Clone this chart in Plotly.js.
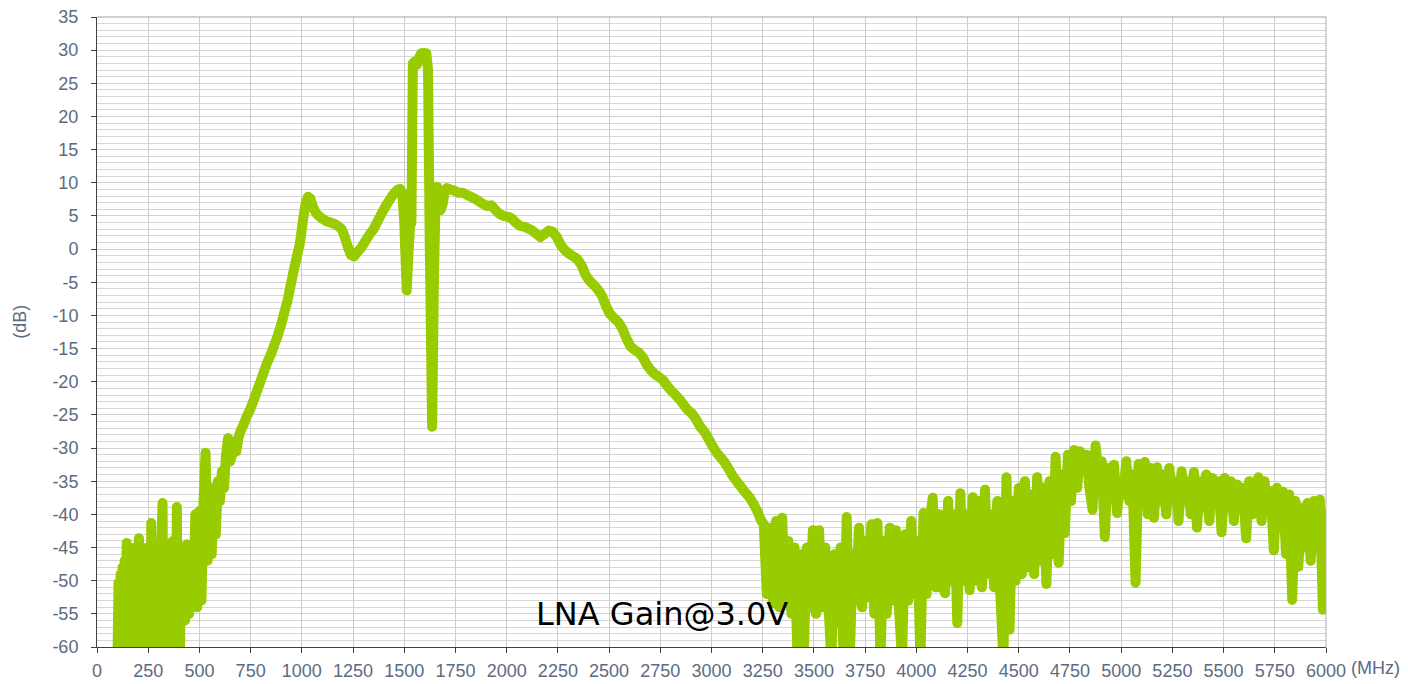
<!DOCTYPE html>
<html>
<head>
<meta charset="utf-8">
<script src="https://cdn.plot.ly/plotly-3.0.1.min.js"></script>
<style>
  html, body { margin: 0; padding: 0; background: #ffffff; }
  #chart { width: 1408px; height: 684px; }
</style>
</head>
<body>
<div id="chart"></div>
<script>
// ---- Data (frequency in MHz, gain in dB) ----
const freqLow = [
  100,105,110,115,120,125,130,135,140,145,
  150,155,160,165,170,175,180,185,190,195,
  200,205,210,215,220,225,230,235,240,245,
  250,255,260,265,270,275,280,285,290,295,
  300,305,310,315,320,325,330,335,340,345,
  350,355,360,365,370,375,380,385,390,395,
  400,405,410,415,420,430,440,450,460,470,
  480,490,500,510,520,530,540,550,560,570,
  580,590,600,610,620,630,640,650
];
const gainLow = [
  -62,-50.3,-62,-49,-62,-48,-62,-47,-60,-44.3,
  -62,-47,-62,-46,-60,-47,-62,-45,-58,-46,
  -62,-43.6,-60,-47,-62,-46,-59,-47,-62,-45,
  -60,-46,-62,-41.3,-58,-47,-62,-46,-60,-47,
  -62,-46,-58,-44,-38.3,-62,-46,-60,-47,-62,
  -45,-58,-47,-62,-44,-60,-46,-62,-38.9,-62,
  -47,-62,-46,-56,-45,-56,-44.5,-55,-45,-54,
  -40,-54,-39.5,-53,-38,-30.7,-47,-38.5,-46,-36,
  -43,-35,-38,-33.5,-36,-31,-28.5,-32
];

const freqMid = [
  660,670,680,690,700,715,730,750,765,780,
  800,815,830,850,865,880,900,915,930,945,
  960,975,990,1005,1018,1030,1042,1055,1068,1080,
  1100,1120,1140,1160,1180,1195,1210,1225,1240,1255,
  1270,1290,1310,1330,1350,1370,1390,1410,1430,1450,
  1465,1480,1490,1500,1512,1520,1528,1535,1542,1552,
  1562,1572,1582,1595,1608,1616,1624,1636,1645,1652,
  1660,1668,1678,1688,1698,1708,1725,1745,1765,1785,
  1805,1825,1845,1865,1885,1905,1925,1945,1965,1985,
  2005,2025,2045,2065,2085,2105,2125,2145,2165,2185,
  2205,2225,2245,2265,2285,2305,2325,2345,2365,2385,
  2405,2425,2445,2465,2485,2505,2525,2545,2565,2585,
  2605,2625,2645,2665,2685,2705,2725,2745,2765,2785,
  2805,2825,2845,2865,2885,2905,2925,2945,2965,2985,
  3005,3025,3045,3065,3085,3105,3125,3145,3165,3185,
  3205,3225,3240
];
const gainMid = [
  -31,-29,-30.5,-28.5,-27.5,-26.5,-25.3,-24,-22.8,-21.5,
  -19.8,-18.5,-17.2,-15.8,-14.5,-13.3,-11.3,-9.5,-7.8,-5.5,
  -3.3,-1.2,0.8,4.2,6.8,7.9,7.6,6.3,5.5,5.1,
  4.6,4.2,4.0,3.8,3.4,3.0,1.8,0.3,-0.9,-1.1,
  -0.5,0.2,1.2,2.2,3.0,4.2,5.4,6.5,7.5,8.4,
  8.9,9.1,8.6,4.0,-6.2,-1.0,3.3,4.0,28.0,28.3,
  27.8,28.8,29.5,29.6,29.5,27.0,2.0,-26.8,-4.0,6.0,
  9.4,7.5,5.9,6.8,8.8,9.2,9.0,8.8,8.5,8.5,
  8.2,7.9,7.6,7.2,6.8,6.5,6.6,5.9,5.3,5.0,
  4.9,4.6,4.0,3.5,3.4,3.1,2.8,2.3,1.8,2.3,
  2.8,2.6,1.8,0.6,-0.2,-0.7,-1.1,-1.5,-2.4,-3.9,
  -4.8,-5.4,-6.1,-7.0,-8.6,-9.8,-10.4,-11.0,-12.0,-13.5,
  -14.7,-15.2,-15.6,-16.3,-17.5,-18.3,-18.9,-19.3,-19.8,-20.7,
  -21.4,-22.0,-22.7,-23.5,-24.3,-24.8,-25.7,-26.8,-27.5,-28.6,
  -29.7,-30.7,-31.4,-32.2,-33.2,-34.3,-35.1,-35.9,-36.7,-37.4,
  -38.4,-39.6,-40.8
];

const freqHigh = [
  3255,3270,3285,3300,3315,3330,3345,3360,3375,3390,
  3405,3420,3435,3450,3465,3480,3495,3510,3525,3540,
  3555,3570,3585,3600,3615,3630,3645,3660,3675,3690,
  3705,3720,3735,3750,3765,3780,3795,3810,3825,3840,
  3855,3870,3885,3900,3915,3930,3945,3960,3975,3990,
  4005,4020,4035,4050,4065,4080,4095,4110,4125,4140,
  4155,4170,4185,4200,4215,4230,4245,4260,4275,4290,
  4305,4320,4335,4350,4365,4380,4395,4410,4425,4440,
  4455,4470,4485,4500,4515,4530,4545,4560,4575,4590,
  4605,4620,4635,4650,4665,4680,4695,4710,4725,4740,
  4755,4770,4785,4800,4815,4830,4845,4860,4875,4890,
  4905,4920,4935,4950,4965,4980,4995,5010,5025,5040,
  5055,5070,5085,5100,5115,5130,5145,5160,5175,5190,
  5205,5220,5235,5250,5265,5280,5295,5310,5325,5340,
  5355,5370,5385,5400,5415,5430,5445,5460,5475,5490,
  5505,5520,5535,5550,5565,5580,5595,5610,5625,5640,
  5655,5670,5685,5700,5715,5730,5745,5760,5775,5790,
  5805,5820,5835,5850,5865,5880,5895,5910,5925,5940,
  5955,5970,5985,6000
];
const gainHigh = [
  -41.5,-52,-42,-53.4,-41,-54,-40.5,-53,-44,-55,
  -45,-62,-46,-62,-45,-54,-42.4,-55,-42.4,-54,
  -45,-53,-62,-46,-56.4,-45,-62,-40.4,-62,-46,
  -53,-42,-54,-44,-52.5,-41.5,-55,-41.3,-62,-44,
  -55,-42,-53,-42.4,-54,-62,-43,-53,-41,-52,
  -44,-62,-39.8,-52,-41,-37.5,-51,-40,-50,-51.9,
  -38,-50,-40,-56.4,-36.8,-50,-40,-51.4,-37.4,-50,
  -38,-51,-36.3,-49,-40,-51,-38,-52,-62,-34.4,
  -57.4,-38,-50,-36,-49,-35,-48,-37,-49,-34.4,
  -47,-36,-50.5,-35,-46,-31.3,-47.3,-34,-42.8,-31,
  -38,-30.3,-36,-30.5,-33,-31,-36,-39.3,-29.6,-34,
  -32,-43.4,-33,-37,-32.5,-39.8,-35,-37,-32,-38,
  -34,-50.3,-32.4,-36,-32.1,-40,-33,-40.5,-32.9,-38,
  -34,-40,-33,-38,-35,-41,-33.5,-38,-35,-40,
  -33.6,-42,-35,-39,-34,-41,-34.5,-38,-35,-42.7,
  -34.5,-39,-35,-41,-35.5,-39,-36,-43.6,-35,-40,
  -36,-34.4,-41,-35,-39,-36.5,-45.4,-36,-42,-36.6,
  -46,-37,-52.9,-38,-47.9,-39,-45,-38.3,-47,-38,
  -45,-37.8,-54.4,-40
];

const xTickVals = [0,250,500,750,1000,1250,1500,1750,2000,2250,2500,2750,3000,3250,3500,3750,4000,4250,4500,4750,5000,5250,5500,5750,6000];
const yTickVals = [35,30,25,20,15,10,5,0,-5,-10,-15,-20,-25,-30,-35,-40,-45,-50,-55,-60];
const chartLabel = 'LNA Gain@3.0V';
const xUnit = '(MHz)';
const yUnit = '(dB)';

const freq = freqLow.concat(freqMid, freqHigh);
const gain = gainLow.concat(gainMid, gainHigh);

const tickFont = { family: 'Liberation Sans, Arial, sans-serif', size: 18, color: '#5b6b82' };

const trace = {
  x: freq,
  y: gain,
  type: 'scatter',
  mode: 'lines',
  line: { color: '#99cc00', width: 10, simplify: false },
  hoverinfo: 'x+y'
};

const layout = {
  width: 1408,
  height: 684,
  margin: { l: 97, r: 82, t: 17, b: 37 },
  paper_bgcolor: '#ffffff',
  plot_bgcolor: '#ffffff',
  showlegend: false,
  xaxis: {
    range: [0, 6000],
    tickvals: xTickVals,
    ticktext: xTickVals.map(String),
    ticks: 'outside',
    ticklen: 5,
    tickcolor: '#404040',
    tickwidth: 1,
    ticklabelstandoff: 2,
    showline: true,
    linecolor: '#404040',
    linewidth: 1,
    showgrid: true,
    gridcolor: '#cccccc',
    gridwidth: 1,
    zeroline: false,
    tickfont: tickFont,
    fixedrange: true
  },
  yaxis: {
    range: [-60, 35],
    tickvals: yTickVals,
    ticktext: yTickVals.map(String),
    ticks: 'outside',
    ticklen: 5,
    tickcolor: '#404040',
    tickwidth: 1,
    ticklabelstandoff: 9,
    showline: true,
    linecolor: '#404040',
    linewidth: 1,
    showgrid: true,
    gridcolor: '#d0d0d0',
    gridwidth: 1,
    zeroline: false,
    tickfont: tickFont,
    minor: { dtick: 1, showgrid: true, gridcolor: '#d6d6d6', gridwidth: 1, ticks: '' },
    fixedrange: true
  },
  shapes: [
    { type: 'line', xref: 'paper', yref: 'paper', x0: 0, x1: 1, y0: 1, y1: 1,
      line: { color: '#a0a0a0', width: 1 } },
    { type: 'line', xref: 'paper', yref: 'paper', x0: 1, x1: 1, y0: 0, y1: 1,
      line: { color: '#b0b0b0', width: 1 } }
  ],
  annotations: [
    { text: chartLabel, xref: 'x', yref: 'y', x: 2759, y: -55, showarrow: false,
      xanchor: 'center', yanchor: 'middle',
      font: { family: 'DejaVu Sans, sans-serif', size: 32, color: '#000000' } },
    { text: xUnit, xref: 'paper', yref: 'paper', x: 1.019, y: -0.034, showarrow: false,
      xanchor: 'left', yanchor: 'middle', font: tickFont },
    { text: yUnit, xref: 'paper', yref: 'paper', x: -0.0627, y: 0.516, showarrow: false,
      textangle: -90, xanchor: 'center', yanchor: 'middle', font: tickFont }
  ]
};

Plotly.newPlot('chart', [trace], layout, { displayModeBar: false, staticPlot: true }).then(function () {
  document.querySelectorAll('.scatterlayer .js-line').forEach(function (p) {
    p.style.strokeLinejoin = 'round';
    p.style.strokeLinecap = 'round';
  });
});
</script>
</body>
</html>
